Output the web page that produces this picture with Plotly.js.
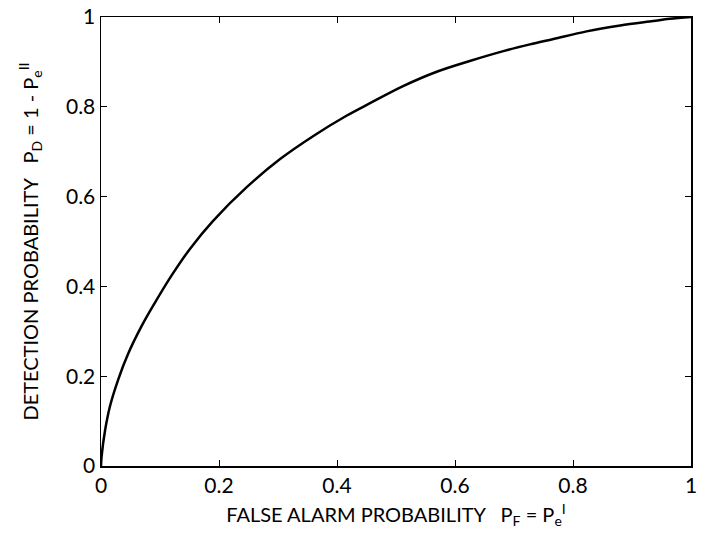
<!DOCTYPE html>
<html>
<head>
<meta charset="utf-8">
<script src="https://cdn.plot.ly/plotly-3.0.1.min.js"></script>
<style>html,body{margin:0;padding:0;background:#fff;}#chart{width:707px;height:544px;}</style>
</head>
<body>
<div id="chart"></div>
<script>
// ROC curve: false alarm probability vs detection probability
const falseAlarm = [0, 0.001, 0.007, 0.015, 0.029, 0.046, 0.069, 0.092, 0.120, 0.151, 0.190, 0.247, 0.303, 0.360, 0.416, 0.456, 0.512, 0.569, 0.625, 0.682, 0.727, 0.767, 0.823, 0.880, 0.936, 0.964, 1];
const detection  = [0, 0.021, 0.080, 0.132, 0.192, 0.250, 0.312, 0.365, 0.425, 0.484, 0.546, 0.621, 0.683, 0.735, 0.780, 0.808, 0.846, 0.878, 0.902, 0.924, 0.939, 0.951, 0.968, 0.981, 0.991, 0.996, 1];
const tickVals = [0, 0.2, 0.4, 0.6, 0.8, 1];
const tickText = ["0", "0.2", "0.4", "0.6", "0.8", "1"];
const xTitle = "FALSE ALARM PROBABILITY   P<sub>F</sub> = P<sub>e</sub><sup>I</sup>";
const yTitle = "DETECTION PROBABILITY   P<sub>D</sub> = 1 - P<sub>e</sub><sup>II</sup>";

const font = "Lato, 'Open Sans', sans-serif";
const axisCommon = {
  range: [0, 1],
  tickvals: tickVals,
  ticktext: tickText,
  ticks: "inside",
  ticklen: 6,
  tickwidth: 1,
  tickcolor: "#000",
  showline: true,
  linecolor: "#000",
  linewidth: 1.5,
  mirror: "ticks",
  showgrid: false,
  zeroline: false,
  tickfont: {family: font, size: 21, color: "#000"},
  fixedrange: true,
  automargin: false
};
const layout = {
  width: 707, height: 544,
  margin: {l: 101, r: 16, t: 17, b: 78},
  paper_bgcolor: "#fff", plot_bgcolor: "#fff",
  showlegend: false,
  xaxis: Object.assign({}, axisCommon, {
    title: {text: xTitle, font: {family: font, size: 20, color: "#000"}, standoff: 12}
  }),
  yaxis: Object.assign({}, axisCommon, {
    title: {text: yTitle, font: {family: font, size: 20, color: "#000"}, standoff: 22}
  })
};
Plotly.newPlot("chart", [{
  x: falseAlarm, y: detection, type: "scatter", mode: "lines",
  line: {color: "#000", width: 2.5, shape: "spline", smoothing: 1}
}], layout, {displayModeBar: false, staticPlot: true});
</script>
</body>
</html>
